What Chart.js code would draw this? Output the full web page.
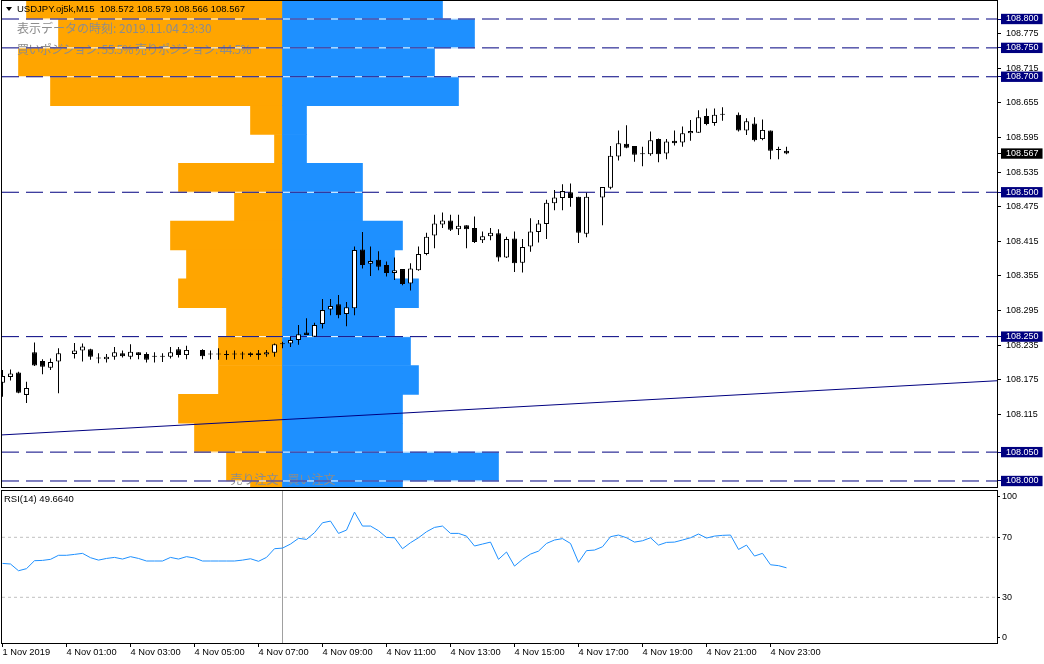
<!DOCTYPE html>
<html>
<head>
<meta charset="utf-8">
<script src="https://cdn.jsdelivr.net/npm/chart.js@4.4.0/dist/chart.umd.min.js"></script>
<style>
  html, body { margin: 0; padding: 0; background: #fff; }
  #wrap { position: relative; width: 1044px; height: 664px; overflow: hidden; }
  #main { position: absolute; left: 0; top: 0; width: 1044px; height: 489px; }
  #rsi { position: absolute; left: 0; top: 489px; width: 1044px; height: 175px; }
</style>
</head>
<body>
<div id="wrap">
  <canvas id="main" width="1044" height="489"></canvas>
  <canvas id="rsi" width="1044" height="175"></canvas>
</div>
<script>
// ---- data ----
const symbolTitle = 'USDJPY.oj5k,M15';
const snapshotTime = '2019.11.04 23:30';
const longShare = '55.5';
const shortShare = '44.5';

// time axis: one slot per M15 bar, labels every 8 bars
const timeTickBars = [0, 8, 16, 24, 32, 40, 48, 56, 64, 72, 80, 88, 96];
const timeLabels = ['1 Nov 2019', '4 Nov 01:00', '4 Nov 03:00', '4 Nov 05:00', '4 Nov 07:00',
  '4 Nov 09:00', '4 Nov 11:00', '4 Nov 13:00', '4 Nov 15:00', '4 Nov 17:00',
  '4 Nov 19:00', '4 Nov 21:00', '4 Nov 23:00'];

// OHLC (null = no candle drawn)
const opens = [108.170, 108.180, 108.188, 108.149, 108.223, 108.208, 108.196, 108.207, null, 108.220,
  108.226, 108.228, 108.212, 108.211, 108.215, 108.221, 108.215, 108.223, 108.220, 108.215,
  108.215, 108.215, 108.228, 108.218, null, 108.227, 108.219, 108.219, 108.218, 108.219,
  108.219, 108.218, 108.221, 108.219, 108.222, 108.237, 108.238, 108.244, 108.257, 108.250,
  108.272, 108.297, 108.306, 108.289, 108.299, 108.401, 108.376, 108.383, 108.374, 108.360,
  108.367, 108.342, 108.365, 108.393, 108.425, 108.444, 108.451, 108.436, 108.443, 108.438,
  108.417, 108.424, 108.429, 108.387, 108.420, 108.378, 108.406, 108.431, 108.445, 108.481,
  108.490, 108.500, 108.492, 108.428, null, 108.491, 108.508, 108.562, 108.584, 108.580,
  108.566, 108.566, 108.592, 108.567, 108.589, 108.586, 108.602, 108.603, 108.632, 108.620,
  108.634, null, 108.634, 108.607, 108.619, 108.592, 108.607, 108.573, 108.572];
const highs = [108.192, 108.193, 108.189, 108.172, 108.240, 108.211, 108.212, 108.230, null, 108.239,
  108.238, 108.229, 108.221, 108.220, 108.232, 108.226, 108.237, 108.223, 108.223, 108.223,
  108.221, 108.232, 108.232, 108.234, null, 108.228, 108.226, 108.230, 108.226, 108.226,
  108.224, 108.223, 108.227, 108.227, 108.238, 108.241, 108.250, 108.270, 108.282, 108.274,
  108.315, 108.315, 108.322, 108.310, 108.406, 108.431, 108.406, 108.398, 108.380, 108.387,
  108.367, 108.377, 108.406, 108.430, 108.461, 108.465, 108.461, 108.461, 108.443, 108.458,
  108.432, 108.438, 108.436, 108.423, 108.432, 108.419, 108.455, 108.452, 108.487, 108.504,
  108.514, 108.515, 108.492, 108.499, null, 108.509, 108.580, 108.607, 108.616, 108.580,
  108.579, 108.605, 108.593, 108.592, 108.607, 108.614, 108.625, 108.642, 108.645, 108.645,
  108.647, null, 108.638, 108.628, 108.630, 108.626, 108.607, 108.579, 108.579];
const lows = [108.146, 108.174, 108.152, 108.135, 108.199, 108.185, 108.192, 108.152, null, 108.212,
  108.207, 108.210, 108.204, 108.205, 108.210, 108.214, 108.211, 108.211, 108.205, 108.205,
  108.206, 108.212, 108.214, 108.211, null, 108.211, 108.211, 108.210, 108.210, 108.211,
  108.211, 108.215, 108.210, 108.215, 108.215, 108.230, 108.232, 108.236, 108.253, 108.250,
  108.264, 108.287, 108.282, 108.268, 108.287, 108.368, 108.355, 108.365, 108.354, 108.348,
  108.339, 108.330, 108.364, 108.391, 108.403, 108.438, 108.433, 108.426, 108.403, 108.412,
  108.412, 108.417, 108.380, 108.386, 108.362, 108.361, 108.397, 108.413, 108.419, 108.469,
  108.469, 108.475, 108.412, 108.422, null, 108.443, 108.505, 108.555, 108.576, 108.553,
  108.545, 108.563, 108.552, 108.557, 108.581, 108.579, 108.589, 108.603, 108.616, 108.615,
  108.624, null, 108.605, 108.599, 108.588, 108.590, 108.557, 108.557, 108.566];
const closes = [108.182, 108.186, 108.153, 108.161, 108.200, 108.198, 108.206, 108.221, null, 108.226,
  108.233, 108.215, 108.212, 108.215, 108.223, 108.216, 108.224, 108.218, 108.210, 108.215,
  108.215, 108.223, 108.218, 108.227, null, 108.216, 108.219, 108.219, 108.218, 108.219,
  108.219, 108.221, 108.218, 108.223, 108.237, 108.237, 108.244, 108.254, 108.253, 108.270,
  108.296, 108.303, 108.287, 108.301, 108.400, 108.374, 108.381, 108.371, 108.360, 108.365,
  108.341, 108.368, 108.393, 108.423, 108.446, 108.451, 108.435, 108.442, 108.436, 108.414,
  108.424, 108.430, 108.387, 108.419, 108.377, 108.405, 108.432, 108.446, 108.482, 108.491,
  108.502, 108.490, 108.430, 108.492, null, 108.509, 108.563, 108.585, 108.577, 108.565,
  108.566, 108.590, 108.566, 108.588, 108.585, 108.602, 108.606, 108.630, 108.618, 108.634,
  108.634, null, 108.607, 108.623, 108.590, 108.608, 108.572, 108.573, 108.567];

// RSI(14), one value per bar
const rsi = [52.6, 52.2, 47.7, 49.1, 54.4, 54.6, 55.3, 58.0, 58.0, 58.6,
  59.3, 56.4, 54.8, 55.9, 56.6, 55.5, 57.1, 55.9, 54.2, 54.2,
  54.2, 56.6, 55.5, 57.1, 56.2, 54.2, 54.2, 54.2, 54.2, 54.2,
  54.8, 55.7, 54.0, 56.6, 62.4, 62.8, 65.5, 69.3, 68.6, 73.1,
  79.7, 80.8, 72.6, 74.8, 86.8, 77.5, 77.5, 74.4, 69.9, 69.7,
  62.4, 66.4, 69.7, 73.7, 76.6, 77.5, 72.6, 72.6, 70.8, 64.2,
  65.5, 66.8, 55.3, 60.2, 50.8, 55.3, 58.8, 60.8, 65.9, 68.2,
  69.1, 65.9, 53.3, 61.1, 61.5, 63.7, 70.4, 71.5, 69.7, 66.8,
  67.7, 69.7, 64.8, 66.6, 66.8, 68.2, 69.7, 72.2, 69.5, 70.8,
  71.3, 71.5, 61.9, 64.8, 57.5, 59.3, 51.7, 51.1, 49.664];
const rsiLevels = [70, 30];
const rsiTickLabels = [100, 70, 30, 0];

// order book histogram: bands of 0.05, depth measured in bar slots from the anchor bar
const anchorBar = 35;
const bandStep = 0.05;
const bandPrices = [108.825, 108.775, 108.725, 108.675, 108.625, 108.575, 108.525, 108.475, 108.425,
  108.375, 108.325, 108.275, 108.225, 108.175, 108.125, 108.075, 108.025, 107.975];
const sellOrders = [32, 28, 33, 29, 4, 1, 13, 6, 14, 12, 13, 7, 8, 8, 13, 11, 7, 4];
const buyOrders = [20, 24, 19, 22, 3, 3, 10, 10, 15, 14, 17, 14, 16, 17, 15, 15, 27, 15];

// horizontal levels, price scale ticks, trend line
const levels = [108.800, 108.750, 108.700, 108.500, 108.250, 108.050, 108.000];
const priceTicks = [108.775, 108.715, 108.655, 108.595, 108.535, 108.475, 108.415,
  108.355, 108.295, 108.235, 108.175, 108.115];
const trendBars = [-1, 125];
const trendPrices = [108.0791, 108.1741];

// ---- view ranges ----
const xMin = -0.0625, xMax = 124.3125;
const yMin = 107.98961, yMax = 108.83117;
const rsiMin = -0.47, rsiMax = 100.87;
const mainPlotHeight = 486;

Chart.defaults.font.family = "'Liberation Sans', Arial, sans-serif";
Chart.defaults.color = '#000';

const NAVY = '#000080';
const lastBar = opens.length - 1;
const lastClose = closes[lastBar];
const fmt = v => Number(v).toFixed(3);
const candleIdx = opens.map((_, i) => i).filter(i => opens[i] !== null);
const levelSet = new Set(levels);
const bandThickness = bandStep / (yMax - yMin) * mainPlotHeight;

function levelLine(list) {
  return list.flatMap(p => [{x: xMin, y: p}, {x: xMax, y: p}, {x: xMax, y: null}]);
}

const framePlugin = {
  id: 'frame',
  afterDraw(chart) {
    const {ctx, chartArea: a} = chart;
    ctx.save();
    ctx.strokeStyle = '#000';
    ctx.lineWidth = 1;
    ctx.strokeRect(a.left - 0.5, a.top - 0.5, a.right - a.left + 1, a.bottom - a.top + 1);
    ctx.restore();
  }
};

const mainText = {
  id: 'mainText',
  afterDatasetDraw(chart, args) {
    if (chart.data.datasets[args.index].label !== 'buy orders') return;
    const {ctx} = chart;
    const mid = chart.scales.x.getPixelForValue(anchorBar);
    ctx.save();
    ctx.fillStyle = '#8c8c8c';
    ctx.font = "12px 'Noto Sans CJK JP'";
    ctx.textBaseline = 'middle';
    ctx.textAlign = 'left';
    ctx.fillText('表示データの時刻: ' + snapshotTime, 17, 28);
    ctx.letterSpacing = '-0.6px';
    ctx.fillText('買いポジション: ' + longShare + '% 売りポジション: ' + shortShare + '%', 17, 49);
    ctx.letterSpacing = '0px';
    ctx.textAlign = 'right';
    ctx.fillText('売り注文', mid - 4, 479);
    ctx.textAlign = 'left';
    ctx.fillText('買い注文', mid + 5, 479);
    ctx.restore();
  },
  afterDraw(chart) {
    const {ctx} = chart;
    ctx.save();
    ctx.fillStyle = '#000';
    ctx.beginPath();
    ctx.moveTo(6, 7); ctx.lineTo(12, 7); ctx.lineTo(9, 11); ctx.closePath();
    ctx.fill();
    ctx.font = "9.5px 'Liberation Sans'";
    ctx.textBaseline = 'middle';
    ctx.fillText(symbolTitle + '  ' + [opens[lastBar], highs[lastBar], lows[lastBar], closes[lastBar]].map(fmt).join(' '), 17, 9.5);
    ctx.restore();
  }
};

new Chart(document.getElementById('main'), {
  type: 'bar',
  data: {
    datasets: [
      {
        label: 'sell orders', indexAxis: 'y', xAxisID: 'xh', yAxisID: 'yh',
        data: bandPrices.map((p, k) => ({y: p, x: [anchorBar - sellOrders[k], anchorBar]})),
        backgroundColor: '#ffa500', grouped: false, barThickness: bandThickness, order: 11
      },
      {
        label: 'buy orders', indexAxis: 'y', xAxisID: 'xh', yAxisID: 'yh',
        data: bandPrices.map((p, k) => ({y: p, x: [anchorBar, anchorBar + buyOrders[k]]})),
        backgroundColor: '#1e90ff', grouped: false, barThickness: bandThickness, order: 10
      },
      {
        type: 'line', label: 'level base', data: levelLine(levels),
        borderColor: '#fff', borderWidth: 1, pointRadius: 0, order: 8
      },
      {
        type: 'line', label: 'levels', data: levelLine(levels),
        borderColor: NAVY, borderWidth: 1, borderDash: [17, 7], pointRadius: 0, order: 7
      },
      {
        type: 'line', label: 'trend', data: trendBars.map((b, k) => ({x: b, y: trendPrices[k]})),
        borderColor: NAVY, borderWidth: 1, pointRadius: 0, order: 6
      },
      {
        label: 'wicks', data: candleIdx.map(i => ({x: i, y: [lows[i], highs[i]]})),
        backgroundColor: '#000', borderWidth: 0, grouped: false, inflateAmount: 0,
        barPercentage: 0.125, categoryPercentage: 1, order: 5
      },
      {
        label: 'bodies', data: candleIdx.map(i => ({x: i, y: [opens[i], closes[i]]})),
        backgroundColor: ctx => (ctx.raw.y[1] > ctx.raw.y[0] ? '#fff' : '#000'),
        borderColor: '#000', borderWidth: 1, borderSkipped: false, minBarLength: 1,
        grouped: false, inflateAmount: 0, barPercentage: 0.625, categoryPercentage: 1, order: 4
      }
    ]
  },
  options: {
    responsive: false, animation: false, devicePixelRatio: 1,
    layout: {padding: {left: 2, top: 1, right: 0, bottom: 2}},
    plugins: {legend: {display: false}, tooltip: {enabled: false}},
    scales: {
      x: {
        type: 'linear', min: xMin, max: xMax, display: false, offset: false, grid: {offset: false},
        afterBuildTicks: s => { s.ticks = timeTickBars.map(v => ({value: v})); }
      },
      xh: {type: 'linear', axis: 'x', min: xMin, max: xMax, display: false, offset: false, grid: {offset: false}},
      yh: {type: 'linear', axis: 'y', min: yMin, max: yMax, display: false, offset: false},
      y: {
        type: 'linear', position: 'right', min: yMin, max: yMax, beginAtZero: false,
        afterBuildTicks: s => { s.ticks = [...priceTicks, ...levels, lastClose].map(v => ({value: v})); },
        afterFit: s => { s.width = 47; s.paddingTop = 0; s.paddingBottom = 0; },
        border: {display: false},
        grid: {
          drawOnChartArea: false, tickLength: 4,
          tickColor: c => (levelSet.has(c.tick.value) ? NAVY : '#000')
        },
        ticks: {
          autoSkip: false, padding: 5,
          font: {size: 9, lineHeight: 1.15},
          callback: v => fmt(v),
          color: c => (levelSet.has(c.tick.value) || c.tick.value === lastClose ? '#fff' : '#000'),
          showLabelBackdrop: true,
          backdropPadding: {left: 5, right: 4, top: 0, bottom: 0},
          backdropColor: c => (levelSet.has(c.tick.value) ? NAVY : c.tick.value === lastClose ? '#000' : 'rgba(0,0,0,0)')
        }
      }
    }
  },
  plugins: [mainText, framePlugin]
});

// RSI panel
const rsiTickPos = v => (v === 100 ? 96.9 : v === 0 ? 3.5 : v);
const rsiText = {
  id: 'rsiText',
  afterDraw(chart) {
    const {ctx} = chart;
    ctx.save();
    ctx.fillStyle = '#000';
    ctx.font = "9.5px 'Liberation Sans'";
    ctx.textBaseline = 'middle';
    ctx.fillText('RSI(14) ' + rsi[rsi.length - 1].toFixed(4), 4, 10);
    ctx.restore();
  }
};

new Chart(document.getElementById('rsi'), {
  type: 'line',
  data: {
    datasets: [
      {
        label: 'RSI(14)', data: rsi.map((v, i) => ({x: i, y: v})),
        borderColor: '#1e90ff', borderWidth: 1, pointRadius: 0, tension: 0, order: 1
      },
      {
        label: 'cursor', data: [{x: anchorBar, y: rsiMin}, {x: anchorBar, y: rsiMax}],
        borderColor: '#a0a0a0', borderWidth: 1, pointRadius: 0, order: 2
      },
      {
        label: 'rsi levels', data: levelLine(rsiLevels),
        borderColor: '#c0c0c0', borderWidth: 1, borderDash: [3, 3], pointRadius: 0, order: 3
      }
    ]
  },
  options: {
    responsive: false, animation: false, devicePixelRatio: 1,
    layout: {padding: {left: 2, top: 2, right: 0, bottom: 0}},
    plugins: {legend: {display: false}, tooltip: {enabled: false}},
    scales: {
      x: {
        type: 'linear', min: xMin, max: xMax, offset: false,
        afterBuildTicks: s => { s.ticks = timeTickBars.map(v => ({value: v})); },
        afterFit: s => { s.height = 21; s.paddingLeft = 0; s.paddingRight = 0; },
        border: {display: false},
        grid: {drawOnChartArea: false, tickLength: 4, tickColor: '#000'},
        ticks: {
          autoSkip: false, maxRotation: 0, align: 'start', padding: 0,
          font: {size: 9.3},
          callback: v => timeLabels[timeTickBars.indexOf(v)]
        }
      },
      y: {
        type: 'linear', position: 'right', min: rsiMin, max: rsiMax,
        afterBuildTicks: s => { s.ticks = rsiTickLabels.map(v => ({value: rsiTickPos(v)})); },
        afterFit: s => { s.width = 47; s.paddingTop = 0; s.paddingBottom = 0; },
        border: {display: false},
        grid: {drawOnChartArea: false, tickLength: 3, tickColor: '#000'},
        ticks: {
          autoSkip: false, padding: 2, font: {size: 9},
          callback: (v, i) => String(rsiTickLabels[i])
        }
      }
    }
  },
  plugins: [rsiText, framePlugin]
});
</script>
</body>
</html>
